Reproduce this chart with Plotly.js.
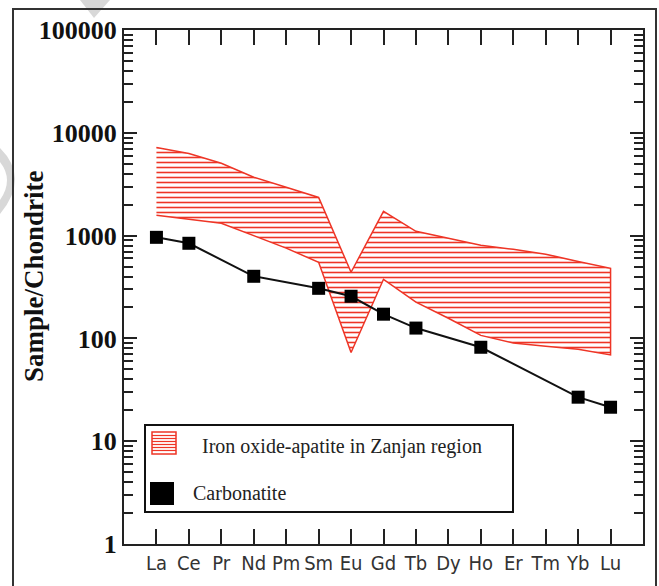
<!DOCTYPE html>
<html>
<head>
<meta charset="utf-8">
<script src="https://cdn.plot.ly/plotly-3.0.1.min.js"></script>
<style>
html,body{margin:0;padding:0;background:#fff;}
#chart{width:659px;height:586px;}
</style>
</head>
<body>
<div id="chart"></div>
<script>
// Rare earth elements (x categories)
const elements = ['La','Ce','Pr','Nd','Pm','Sm','Eu','Gd','Tb','Dy','Ho','Er','Tm','Yb','Lu'];

// Iron oxide-apatite in Zanjan region: envelope (upper and lower bounds)
const bandUpper = [7200, 6300, 5050, 3700, 2950, 2350, 440, 1720, 1100, 940, 805, 735, 660, 560, 480];
const bandLower = [1575, 1440, 1320, 1005, 755, 550, 73, 376, 225, 157, 107, 90, 84, 78.5, 69];

// Carbonatite
const carbElements = ['La','Ce','Nd','Sm','Eu','Gd','Tb','Ho','Yb','Lu'];
const carbValues   = [962, 842, 402, 307, 257, 172, 126, 82, 26.8, 21.4];

// Axis ticks
const yTickVals = [1, 10, 100, 1000, 10000, 100000];
const yTickText = ['1', '10', '100', '1000', '10000', '100000'];

const yTitle = 'Sample/Chondrite';
const legendNames = ['Iron oxide-apatite in Zanjan region', 'Carbonatite'];

const RED = '#ee3526';
const SERIF = 'Liberation Serif, Times New Roman, serif';

const minorVals = [];
for (let d = 0; d < 5; d++) {
  for (let m = 2; m <= 9; m++) minorVals.push(m * Math.pow(10, d));
}

const band = {
  x: elements.concat(elements.slice().reverse()),
  y: bandUpper.concat(bandLower.slice().reverse()),
  type: 'scatter',
  mode: 'lines',
  fill: 'toself',
  fillcolor: 'rgba(0,0,0,0)',
  fillpattern: {shape: '-', size: 5, solidity: 0.32, fgcolor: RED, bgcolor: 'rgba(255,255,255,0)'},
  line: {color: RED, width: 1.5},
  name: legendNames[0],
  showlegend: false,
  hoverinfo: 'skip'
};

const carb = {
  x: carbElements,
  y: carbValues,
  type: 'scatter',
  mode: 'lines+markers',
  line: {color: '#111', width: 2},
  marker: {symbol: 'square', size: 13, color: '#000'},
  name: legendNames[1],
  showlegend: false
};

// pixel -> paper helpers (plot area: x 124..643, y 30..544)
const L = 124, R = 643, T = 30, B = 544;
const px = v => (v - L) / (R - L);
const py = v => (B - v) / (B - T);
const P = (x, y) => px(x).toFixed(4) + ',' + py(y).toFixed(4);

const shapes = [
  // faint watermark fragments
  {type: 'path', xref: 'paper', yref: 'paper', layer: 'below',
   path: 'M' + P(80, 0) + ' L' + P(110, 0) + ' L' + P(94, 18) + ' Z',
   fillcolor: '#d8d8d8', line: {width: 0}},
  {type: 'path', xref: 'paper', yref: 'paper', layer: 'below',
   path: 'M' + P(0, 148) + ' Q' + P(30, 178) + ' ' + P(0, 214) + ' L' + P(0, 200) +
         ' Q' + P(14, 180) + ' ' + P(0, 162) + ' Z',
   fillcolor: '#d8d8d8', line: {width: 0}},
  // outer frame
  {type: 'rect', xref: 'paper', yref: 'paper', x0: px(13), x1: px(656), y0: py(600), y1: py(9),
   line: {color: '#333', width: 2}, fillcolor: 'rgba(0,0,0,0)', layer: 'above'},
  // legend box
  {type: 'rect', xref: 'paper', yref: 'paper', x0: px(145), x1: px(513), y0: py(512), y1: py(425),
   line: {color: '#111', width: 2}, fillcolor: '#fff'},
  // legend red hatched square
  {type: 'rect', xref: 'paper', yref: 'paper', x0: px(152), x1: px(176), y0: py(454), y1: py(432),
   line: {color: RED, width: 1.5}, fillcolor: '#fff'},
  // legend black square
  {type: 'rect', xref: 'paper', yref: 'paper', x0: px(150), x1: px(174), y0: py(505), y1: py(482),
   line: {color: '#000', width: 0}, fillcolor: '#000'}
];
for (let yy = 435.5; yy < 453; yy += 3) {
  shapes.push({type: 'line', xref: 'paper', yref: 'paper', x0: px(152), x1: px(176), y0: py(yy), y1: py(yy),
    line: {color: RED, width: 1.2}});
}

const annotations = [
  {xref: 'paper', yref: 'paper', x: px(34), y: py(276), xanchor: 'center', yanchor: 'middle',
   text: '<b>' + yTitle + '</b>', textangle: -90, showarrow: false,
   font: {family: SERIF, size: 27, color: '#111'}},
  {xref: 'paper', yref: 'paper', x: px(200), y: py(446), xanchor: 'left', yanchor: 'middle',
   text: legendNames[0], showarrow: false,
   font: {family: SERIF, size: 20, color: '#222'}},
  {xref: 'paper', yref: 'paper', x: px(191), y: py(493), xanchor: 'left', yanchor: 'middle',
   text: legendNames[1], showarrow: false,
   font: {family: SERIF, size: 20, color: '#222'}}
];

const layout = {
  width: 659, height: 586,
  margin: {l: L, r: 659 - R, t: T, b: 586 - B, pad: 0},
  paper_bgcolor: '#fff', plot_bgcolor: '#fff',
  showlegend: false,
  xaxis: {
    type: 'category',
    categoryorder: 'array', categoryarray: elements,
    range: [-1, 15],
    showgrid: false, zeroline: false,
    showline: true, linecolor: '#222', linewidth: 2, mirror: 'ticks',
    ticks: 'inside', ticklen: 15, tickwidth: 2, tickcolor: '#222',
    tickfont: {family: 'Liberation Sans Narrow, Arial Narrow, DejaVu Sans Condensed, sans-serif', size: 20, color: '#333'},
    fixedrange: true
  },
  yaxis: {
    type: 'log',
    range: [0, 5],
    tickmode: 'array', tickvals: yTickVals, ticktext: yTickText,
    showgrid: false, zeroline: false,
    showline: true, linecolor: '#222', linewidth: 2, mirror: 'ticks',
    ticks: 'inside', ticklen: 13, tickwidth: 2, tickcolor: '#222',
    minor: {tickmode: 'array', tickvals: minorVals, ticks: 'inside', ticklen: 9, tickwidth: 2, tickcolor: '#222', showgrid: false},
    tickfont: {family: SERIF, size: 26, color: '#111', weight: 'bold'},
    fixedrange: true
  },
  shapes: shapes,
  annotations: annotations
};

Plotly.newPlot('chart', [band, carb], layout, {displayModeBar: false, staticPlot: true});
</script>
</body>
</html>
